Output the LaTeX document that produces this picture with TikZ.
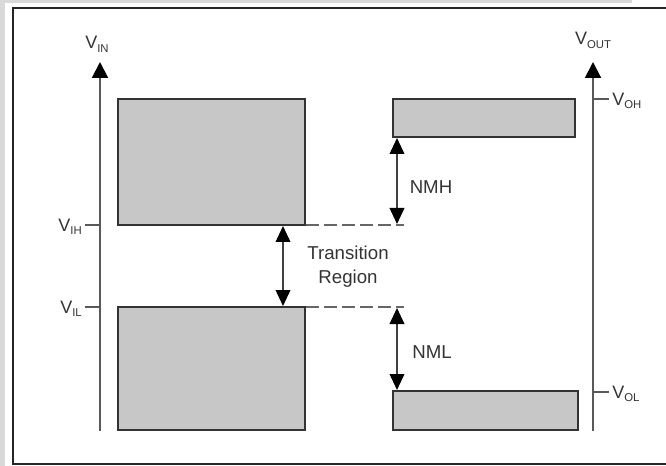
\documentclass[tikz,border=0pt]{standalone}
\usepackage{fontspec}
\setmainfont{Liberation Sans}
\usetikzlibrary{arrows.meta}
\newcommand\vlabel[1]{{\fontsize{13.5}{14}\selectfont V}\raisebox{-2.5pt}{\fontsize{8.5}{9}\selectfont #1}}
\begin{document}
\begin{tikzpicture}[x=0.75pt,y=-0.75pt,
  txt/.style={text=black!80, inner sep=0pt},
  lbl/.style={txt, font=\fontsize{14}{18}\selectfont, align=center},
  bar/.style={draw=black!80, fill=black!22, line width=1.4pt, inner sep=0pt, outer sep=0pt, anchor=north west},
  axisline/.style={draw=black!65, line width=1.5pt, -{Triangle[width=12pt,length=12pt,color=black]}},
  tickmark/.style={draw=black!65, line width=1.5pt},
  guide/.style={draw=black!60, line width=1.5pt, dash pattern=on 9.75pt off 3.75pt},
  span/.style={draw=black!75, line width=1.2pt, {Triangle[width=11pt,length=12pt,color=black]}-{Triangle[width=11pt,length=12pt,color=black]}}
]
\useasboundingbox (0,0) rectangle (666,466);
\clip (0,0) rectangle (666,466);
% background strips and frame
\fill[black!15] (0,0) rectangle (4.5,466);
\fill[black!15] (0,0) rectangle (632,3);
\draw[black!85, line width=1.5pt] (700,8.5) -- (12.5,8.5) -- (12.5,463.5) -- (700,463.5);

% bars
\node[bar, minimum width=140.25pt, minimum height=94.5pt] (r1) at (118,99) {};
\node[bar, minimum width=140.25pt, minimum height=92.25pt] (r2) at (118,307) {};
\node[bar, minimum width=136.5pt, minimum height=28.5pt] (r3) at (393,99) {};
\node[bar, minimum width=138.75pt, minimum height=29.25pt] (r4) at (393,391) {};

% axes
\coordinate (inbot) at (100,431);
\coordinate (intop) at (100,62);
\coordinate (outbot) at (593,431);
\coordinate (outtop) at (593,62);
\draw[axisline] (inbot) -- (intop);
\draw[axisline] (outbot) -- (outtop);

% ticks
\coordinate (ih0) at (85,225); \coordinate (ih1) at (100,225);
\coordinate (il0) at (85,307); \coordinate (il1) at (100,307);
\coordinate (oh0) at (593,99); \coordinate (oh1) at (609,99);
\coordinate (ol0) at (593,392); \coordinate (ol1) at (609,392);
\draw[tickmark] (ih0) -- (ih1);
\draw[tickmark] (il0) -- (il1);
\draw[tickmark] (oh0) -- (oh1);
\draw[tickmark] (ol0) -- (ol1);

% axis labels
\node[txt, anchor=base] (vin) at (97,49) {\vlabel{IN}};
\node[txt, anchor=base] (vout) at (593,45) {\vlabel{OUT}};
\node[txt, anchor=east] (vih) at (82,227) {\vlabel{IH}};
\node[txt, anchor=east] (vil) at (82,309) {\vlabel{IL}};
\node[txt, anchor=west] (voh) at (612,101) {\vlabel{OH}};
\node[txt, anchor=west] (vol) at (612,394) {\vlabel{OL}};

% dashed guides
\coordinate (g1a) at (306,225);
\coordinate (g1) at (404,225);
\coordinate (g2a) at (306,307);
\coordinate (g2) at (404,307);
\draw[guide] (g1a) -- (g1);
\draw[guide] (g2a) -- (g2);

% spans
\coordinate (t1) at (283,226);
\coordinate (t2) at (283,306);
\draw[span] (t1) -- (t2);
\coordinate (h1) at (397,138);
\coordinate (h2) at (397,224);
\draw[span] (h1) -- (h2);
\coordinate (l1) at (397,308);
\coordinate (l2) at (397,390);
\draw[span] (l1) -- (l2);

% text labels
\node[lbl] (trans) at (348,267) {Transition\\Region};
\node[lbl] (nmh) at (431,187) {NMH};
\node[lbl] (nml) at (432,352) {NML};
\end{tikzpicture}
\end{document}
